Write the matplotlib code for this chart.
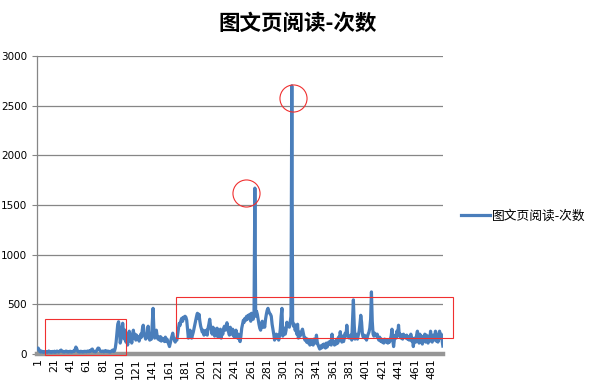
import numpy as np
import matplotlib
matplotlib.use("Agg")
import matplotlib.pyplot as plt
from matplotlib.patches import Rectangle

plt.rcParams['font.family'] = ['Noto Sans CJK SC', 'DejaVu Sans']

# DATOS ---------------------------------------------------------------
titulo = "图文页阅读-次数"
serie  = "图文页阅读-次数"

lecturas = [
    55, 60, 45, 25, 20, 30, 22, 18, 25, 20,
    22, 18, 25, 20, 30, 22, 18, 24, 20, 26,
    20, 28, 18, 22, 30, 24, 20, 25, 35, 40,
    28, 22, 26, 20, 24, 30, 22, 26, 20, 24,
    28, 20, 25, 22, 30, 26, 45, 70, 55, 30,
    22, 26, 20, 28, 24, 20, 26, 22, 28, 24,
    22, 30, 26, 24, 35, 28, 45, 50, 30, 24,
    26, 22, 30, 45, 60, 58, 40, 28, 24, 26,
    30, 22, 26, 35, 28, 24, 30, 22, 26, 20,
    28, 35, 40, 25, 30, 60, 120, 210, 300, 325,
    260, 110, 150, 230, 310, 220, 150, 240, 120, 200,
    90, 170, 230, 130, 200, 110, 180, 240, 160, 200,
    140, 190, 150, 170, 130, 160, 200, 170, 250, 290,
    230, 180, 150, 175, 190, 280, 160, 140, 180, 150,
    300, 460, 250, 160, 200, 240, 180, 150, 170, 140,
    175, 130, 160, 140, 150, 125, 170, 130, 150, 120,
    100, 75, 110, 150, 180, 210, 160, 140, 120, 150,
    140, 200, 260, 310, 290, 340, 360, 330, 370, 365,
    380, 370, 340, 250, 160, 200, 240, 210, 160, 190,
    220, 260, 300, 340, 380, 410, 360, 400, 330, 280,
    250, 220, 240, 190, 230, 200, 240, 190, 260, 300,
    350, 280, 240, 200, 270, 230, 180, 250, 200, 260,
    170, 230, 190, 250, 160, 220, 200, 260, 280, 240,
    270, 315, 250, 220, 190, 270, 230, 200, 250, 180,
    210, 170, 240, 190, 160, 200, 150, 125, 180, 260,
    300, 340, 320, 360, 340, 380, 350, 390, 370, 400,
    330, 410, 400, 350, 430, 1670, 380, 430, 400, 350,
    300, 260, 240, 280, 330, 270, 300, 270, 350, 400,
    440, 460, 430, 410, 400, 380, 300, 250, 200, 140,
    180, 200, 160, 190, 140, 180, 250, 380, 460, 180,
    220, 260, 200, 240, 320, 290, 300, 270, 320, 380,
    2700, 330, 280, 300, 240, 260, 200, 300, 160, 220,
    180, 200, 230, 250, 210, 170, 140, 160, 120, 150,
    110, 130, 90, 140, 100, 120, 90, 150, 130, 110,
    190, 120, 90, 70, 50, 80, 60, 90, 70, 100,
    80, 60, 110, 70, 90, 120, 100, 130, 90, 200,
    110, 130, 90, 120, 100, 150, 110, 170, 140, 225,
    150, 120, 180, 125, 160, 210, 180, 290, 200, 175,
    160, 170, 190, 140, 350, 545, 300, 150, 200, 180,
    150, 190, 230, 300, 390, 320, 200, 170, 190, 160,
    180, 140, 170, 200, 220, 260, 350, 625, 330, 200,
    180, 210, 190, 180, 200, 160, 140, 170, 130, 150,
    120, 140, 110, 150, 130, 120, 140, 110, 130, 120,
    150, 180, 250, 140, 75, 150, 190, 160, 230, 200,
    290, 180, 200, 160, 190, 150, 200, 170, 180, 160,
    190, 150, 170, 140, 160, 200, 130, 160, 75, 140,
    160, 120, 190, 230, 150, 110, 200, 130, 180, 100,
    170, 140, 200, 120, 190, 150, 110, 180, 130, 230,
    150, 120, 190, 140, 170, 230, 130, 180, 120, 200,
    230, 160, 200, 140, 80,
]
dias = np.arange(1, len(lecturas) + 1)

y_ticks = [0, 500, 1000, 1500, 2000, 2500, 3000]
x_ticks = list(range(1, 482, 20))

# marcas rojas (circulos en los picos, rectangulos de zonas)
circ_x = [255.4, 312.3]
circ_y = [1624, 2581]
rects = [  # x0, y0, x1, y1
    (10.3, -10, 108.5, 352),
    (170.0, 161, 507.8, 579),
]

# GRAFICO -------------------------------------------------------------
fig = plt.figure(figsize=(5.95, 3.88), dpi=100)
ax = fig.add_axes([0.062, 0.0876, 0.683, 0.768])

ax.plot(dias, lecturas, color="#4A7EBB", lw=2.3, solid_joinstyle="round", zorder=3,
        label=serie)

ax.set_xlim(0.5, len(lecturas) + 0.5)
ax.set_ylim(0, 3000)
ax.set_yticks(y_ticks)
ax.set_xticks(x_ticks)
ax.set_xticklabels([str(v) for v in x_ticks], rotation=90, family="DejaVu Sans")
ax.set_yticklabels([str(v) for v in y_ticks], family="DejaVu Sans")
ax.tick_params(axis="y", length=3.6, width=0.8, color="#868686", pad=3.5,
               labelsize=7.5)
ax.tick_params(axis="x", length=0, pad=3, labelsize=7.8)

ax.grid(axis="y", color="#868686", lw=0.9)
ax.set_axisbelow(True)
for s in ["top", "right"]:
    ax.spines[s].set_visible(False)
ax.spines["left"].set_color("#868686")
ax.spines["left"].set_linewidth(0.9)
ax.spines["bottom"].set_color("#969696")
ax.spines["bottom"].set_linewidth(3.2)

for x0, y0, x1, y1 in rects:
    ax.add_patch(Rectangle((x0, y0), x1 - x0, y1 - y0, fill=False,
                           ec="#F03030", lw=0.8, clip_on=False, zorder=4))
ax.plot(circ_x, circ_y, "o", ms=19.5, mfc="none", mec="#F03030", mew=0.8,
        clip_on=False, zorder=4)

fig.text(0.5, 0.94, titulo, ha="center", va="center", fontsize=15.5,
         fontweight="bold")

fig.legend(handles=[ax.lines[0]], loc="center left",
           bbox_to_anchor=(0.762, 0.443), frameon=False, fontsize=9.2,
           handlelength=2.3, handletextpad=0.1, borderpad=0.1)

fig.savefig("out.png", dpi=100)
